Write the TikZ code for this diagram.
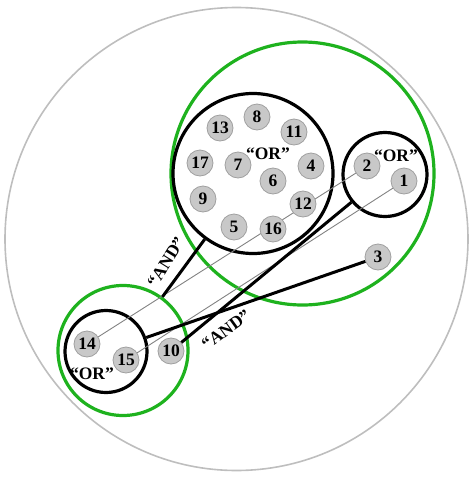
\documentclass[tikz,border=0pt]{standalone}
\usepackage{fontspec}
\setmainfont{Liberation Serif}
\definecolor{nodefill}{RGB}{200,200,200}
\definecolor{nodeborder}{RGB}{160,160,160}
\definecolor{grpgreen}{RGB}{30,178,30}
\definecolor{outergray}{RGB}{190,190,190}
\definecolor{thingray}{RGB}{130,130,130}
\begin{document}
\begin{tikzpicture}[x=1pt,y=-1pt,
  num/.style={circle, fill=nodefill, draw=nodeborder, line width=0.8pt,
    minimum size=26pt, inner sep=0pt, font=\fontsize{17.5}{17.5}\selectfont\bfseries},
  orgrp/.style={circle, draw=black, line width=3.2pt, inner sep=0pt},
  greengrp/.style={circle, draw=grpgreen, line width=3.2pt, inner sep=0pt},
  lbl/.style={font=\fontsize{17.5}{17.5}\selectfont\bfseries, inner sep=0pt},
  thinlink/.style={draw=thingray, line width=0.9pt},
  andlink/.style={draw=black, line width=3pt}]
\useasboundingbox (0,0) rectangle (474,477);
% outer universe circle
\node[circle, draw=outergray, line width=1.6pt, minimum size=463pt, inner sep=0pt] (U) at (236.5,239) {};
% groups
\node[greengrp, minimum size=263pt] (GR) at (302.5,173.5) {};
\node[greengrp, minimum size=130pt] (GL) at (123,350.5) {};
\node[orgrp, minimum size=160pt] (OR1) at (253,173.5) {};
\node[orgrp, minimum size=84pt] (OR2) at (385,174.5) {};
\node[orgrp, minimum size=82pt] (OR3) at (106,351.5) {};
% coordinates for numbered nodes
\coordinate (p1) at (404,181);
\coordinate (p2) at (367,166);
\coordinate (p3) at (378,257);
\coordinate (p14) at (87,344);
\coordinate (p15) at (126,360);
\coordinate (p10) at (171,351);
% thin links
\draw[thinlink] (p14) -- (p2);
\draw[thinlink] (p15) -- (p1);
% numbered nodes
\node[num] (n8) at (257,117) {8};
\node[num] (n13) at (220,128) {13};
\node[num] (n11) at (294,132) {11};
\node[num] (n17) at (200,163) {17};
\node[num] (n7) at (238,165) {7};
\node[num] (n4) at (311,166) {4};
\node[num] (n6) at (273,181) {6};
\node[num] (n9) at (203,199) {9};
\node[num] (n12) at (303,204) {12};
\node[num] (n5) at (234,227) {5};
\node[num] (n16) at (273,229) {16};
\node[num] (n2) at (p2) {2};
\node[num] (n1) at (p1) {1};
\node[num] (n3) at (p3) {3};
\node[num] (n14) at (p14) {14};
\node[num] (n15) at (p15) {15};
\node[num] (n10) at (p10) {10};
% AND links
\draw[andlink] (OR1) -- (GL);
\draw[andlink] (OR2) -- (n10);
\draw[andlink] (OR3) -- (n3);
% labels
\node[lbl] (t1) at (268,154) {“OR”};
\node[lbl] (t2) at (396,156) {“OR”};
\node[lbl] (t3) at (92,374) {“OR”};
\node[lbl, rotate=58] (t4) at (166,262) {“AND”};
\node[lbl, rotate=36] (t5) at (226,330) {“AND”};
\end{tikzpicture}
\end{document}
